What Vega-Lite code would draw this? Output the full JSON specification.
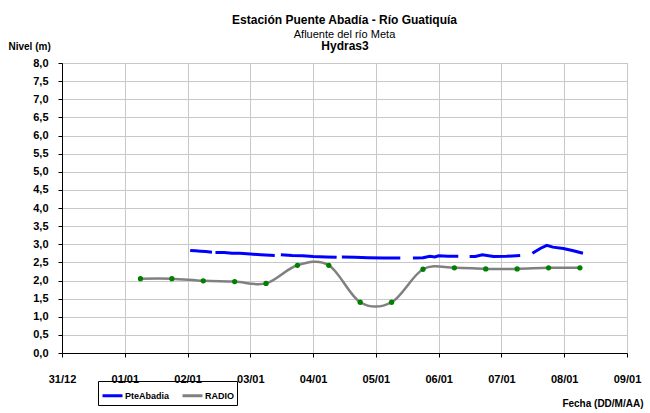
{
  "$schema": "https://vega.github.io/schema/vega-lite/v6.json",
  "width": 565,
  "height": 290,
  "autosize": "none",
  "padding": {"left": 62, "top": 63, "right": 23, "bottom": 60},
  "background": "white",
  "config": {
    "font": "Liberation Sans",
    "view": {"stroke": "#a0a0a0", "strokeWidth": 1},
    "title": {"color": "black", "subtitleColor": "black"}
  },
  "title": {
    "text": "Estación Puente Abadía  - Río Guatiquía",
    "subtitle": "Afluente del río Meta",
    "anchor": "middle",
    "font": "Liberation Sans",
    "fontSize": 12,
    "fontWeight": "bold",
    "subtitleFont": "Liberation Sans",
    "subtitleFontSize": 11,
    "subtitlePadding": 2,
    "offset": -2
  },
  "data": {
    "values": [
      {"t": "2014-01-01T06:00:00", "serie": "RADIO", "nivel": 2.05},
      {"t": "2014-01-01T18:00:00", "serie": "RADIO", "nivel": 2.05},
      {"t": "2014-01-02T06:00:00", "serie": "RADIO", "nivel": 1.99},
      {"t": "2014-01-02T18:00:00", "serie": "RADIO", "nivel": 1.97},
      {"t": "2014-01-03T06:00:00", "serie": "RADIO", "nivel": 1.92},
      {"t": "2014-01-03T18:00:00", "serie": "RADIO", "nivel": 2.42},
      {"t": "2014-01-04T06:00:00", "serie": "RADIO", "nivel": 2.42},
      {"t": "2014-01-04T18:00:00", "serie": "RADIO", "nivel": 1.40},
      {"t": "2014-01-05T06:00:00", "serie": "RADIO", "nivel": 1.40},
      {"t": "2014-01-05T18:00:00", "serie": "RADIO", "nivel": 2.31},
      {"t": "2014-01-06T06:00:00", "serie": "RADIO", "nivel": 2.35},
      {"t": "2014-01-06T18:00:00", "serie": "RADIO", "nivel": 2.32},
      {"t": "2014-01-07T06:00:00", "serie": "RADIO", "nivel": 2.32},
      {"t": "2014-01-07T18:00:00", "serie": "RADIO", "nivel": 2.35},
      {"t": "2014-01-08T06:00:00", "serie": "RADIO", "nivel": 2.35},

      {"t": "2014-01-02T01:00:00", "serie": "PteAbadia", "nivel": 2.83},
      {"t": "2014-01-02T03:00:00", "serie": "PteAbadia", "nivel": 2.82},
      {"t": "2014-01-02T05:00:00", "serie": "PteAbadia", "nivel": 2.81},
      {"t": "2014-01-02T07:00:00", "serie": "PteAbadia", "nivel": 2.80},
      {"t": "2014-01-02T09:20:00", "serie": "PteAbadia", "nivel": 2.78},
      {"t": "2014-01-02T10:00:00", "serie": "PteAbadia", "nivel": null},
      {"t": "2014-01-02T10:40:00", "serie": "PteAbadia", "nivel": 2.77},
      {"t": "2014-01-02T14:00:00", "serie": "PteAbadia", "nivel": 2.77},
      {"t": "2014-01-02T17:00:00", "serie": "PteAbadia", "nivel": 2.75},
      {"t": "2014-01-02T20:00:00", "serie": "PteAbadia", "nivel": 2.75},
      {"t": "2014-01-03T00:00:00", "serie": "PteAbadia", "nivel": 2.73},
      {"t": "2014-01-03T04:00:00", "serie": "PteAbadia", "nivel": 2.71},
      {"t": "2014-01-03T09:20:00", "serie": "PteAbadia", "nivel": 2.69},
      {"t": "2014-01-03T10:30:00", "serie": "PteAbadia", "nivel": null},
      {"t": "2014-01-03T11:40:00", "serie": "PteAbadia", "nivel": 2.71},
      {"t": "2014-01-03T16:00:00", "serie": "PteAbadia", "nivel": 2.69},
      {"t": "2014-01-03T20:00:00", "serie": "PteAbadia", "nivel": 2.68},
      {"t": "2014-01-04T00:00:00", "serie": "PteAbadia", "nivel": 2.66},
      {"t": "2014-01-04T05:00:00", "serie": "PteAbadia", "nivel": 2.65},
      {"t": "2014-01-04T09:00:00", "serie": "PteAbadia", "nivel": 2.64},
      {"t": "2014-01-04T10:00:00", "serie": "PteAbadia", "nivel": null},
      {"t": "2014-01-04T11:00:00", "serie": "PteAbadia", "nivel": 2.65},
      {"t": "2014-01-04T16:00:00", "serie": "PteAbadia", "nivel": 2.64},
      {"t": "2014-01-04T21:00:00", "serie": "PteAbadia", "nivel": 2.63},
      {"t": "2014-01-05T03:00:00", "serie": "PteAbadia", "nivel": 2.62},
      {"t": "2014-01-05T09:20:00", "serie": "PteAbadia", "nivel": 2.62},
      {"t": "2014-01-05T11:30:00", "serie": "PteAbadia", "nivel": null},
      {"t": "2014-01-05T14:10:00", "serie": "PteAbadia", "nivel": 2.62},
      {"t": "2014-01-05T18:00:00", "serie": "PteAbadia", "nivel": 2.63},
      {"t": "2014-01-05T20:40:00", "serie": "PteAbadia", "nivel": 2.67},
      {"t": "2014-01-05T22:30:00", "serie": "PteAbadia", "nivel": 2.65},
      {"t": "2014-01-06T00:00:00", "serie": "PteAbadia", "nivel": 2.68},
      {"t": "2014-01-06T03:30:00", "serie": "PteAbadia", "nivel": 2.67},
      {"t": "2014-01-06T07:30:00", "serie": "PteAbadia", "nivel": 2.67},
      {"t": "2014-01-06T09:30:00", "serie": "PteAbadia", "nivel": null},
      {"t": "2014-01-06T11:50:00", "serie": "PteAbadia", "nivel": 2.66},
      {"t": "2014-01-06T14:00:00", "serie": "PteAbadia", "nivel": 2.66},
      {"t": "2014-01-06T16:40:00", "serie": "PteAbadia", "nivel": 2.71},
      {"t": "2014-01-06T21:00:00", "serie": "PteAbadia", "nivel": 2.66},
      {"t": "2014-01-07T02:00:00", "serie": "PteAbadia", "nivel": 2.67},
      {"t": "2014-01-07T07:10:00", "serie": "PteAbadia", "nivel": 2.69},
      {"t": "2014-01-07T09:30:00", "serie": "PteAbadia", "nivel": null},
      {"t": "2014-01-07T11:50:00", "serie": "PteAbadia", "nivel": 2.75},
      {"t": "2014-01-07T15:00:00", "serie": "PteAbadia", "nivel": 2.89},
      {"t": "2014-01-07T17:20:00", "serie": "PteAbadia", "nivel": 2.97},
      {"t": "2014-01-07T19:40:00", "serie": "PteAbadia", "nivel": 2.92},
      {"t": "2014-01-07T23:40:00", "serie": "PteAbadia", "nivel": 2.88},
      {"t": "2014-01-08T03:30:00", "serie": "PteAbadia", "nivel": 2.82},
      {"t": "2014-01-08T07:10:00", "serie": "PteAbadia", "nivel": 2.75}
    ]
  },
  "encoding": {
    "y": {
      "field": "nivel", "type": "quantitative",
      "scale": {"domain": [0, 8], "nice": false, "zero": true},
      "axis": {
        "values": [0, 0.5, 1, 1.5, 2, 2.5, 3, 3.5, 4, 4.5, 5, 5.5, 6, 6.5, 7, 7.5, 8],
        "labelExpr": "replace(format(datum.value, '.1f'), '.', ',')",
        "labelFont": "Liberation Sans", "labelFontSize": 11, "labelFontWeight": "bold", "labelColor": "black",
        "labelOverlap": false,
        "labelPadding": 10, "tickSize": 4, "tickColor": "black", "domainColor": "black",
        "gridColor": "#c8c8c8", "gridWidth": 1,
        "title": "Nivel (m)", "titleFont": "Liberation Sans", "titleFontSize": 10, "titleFontWeight": "bold",
        "titleColor": "black", "titleAngle": 0, "titleAlign": "left", "titleBaseline": "middle",
        "titleX": -54, "titleY": -17
      }
    }
  },
  "resolve": {"axis": {"x": "independent"}},
  "layer": [
    {
      "transform": [{"filter": "datum.serie === 'PteAbadia'"}],
      "mark": {"type": "line", "color": "#0000FF", "strokeWidth": 3, "invalid": "break-paths-filter-domains"},
      "encoding": {
        "x": {
          "field": "t", "type": "temporal",
          "scale": {"domain": [{"year": 2013, "month": 12, "date": 31}, {"year": 2014, "month": 1, "date": 9}]},
          "axis": {
            "format": "%d/%m",
            "tickCount": {"interval": "day", "step": 1},
            "labelFont": "Liberation Sans", "labelFontSize": 11, "labelFontWeight": "bold", "labelColor": "black",
            "labelPadding": 16, "labelFlush": false, "labelOverlap": false,
            "tickSize": 4, "tickColor": "black", "domainColor": "black",
            "gridColor": "#c8c8c8", "gridWidth": 1,
            "title": "Fecha (DD/M/AA)", "titleFont": "Liberation Sans", "titleFontSize": 10, "titleFontWeight": "bold",
            "titleColor": "black", "titleAnchor": "end", "titleAlign": "right", "titleBaseline": "middle",
            "titleX": 581, "titleY": 50
          }
        },
        "color": {
          "field": "serie", "type": "nominal",
          "scale": {"domain": ["PteAbadia", "RADIO"], "range": ["#0000FF", "#808080"]},
          "legend": {
            "title": null, "orient": "none", "legendX": 36, "legendY": 318, "direction": "horizontal",
            "strokeColor": "black", "padding": 3, "symbolType": "stroke", "symbolStrokeWidth": 3, "symbolSize": 400,
            "labelFont": "Liberation Sans", "labelFontSize": 9, "labelFontWeight": "bold", "labelColor": "black",
            "columnPadding": 6, "labelOffset": 1
          }
        }
      }
    },
    {
      "transform": [{"filter": "datum.serie === 'RADIO'"}],
      "mark": {"type": "line", "color": "#808080", "strokeWidth": 2.5, "interpolate": "cardinal"},
      "encoding": {
        "x": {"field": "t", "type": "temporal", "axis": null},
        "color": {"field": "serie", "type": "nominal"}
      }
    },
    {
      "transform": [{"filter": "datum.serie === 'RADIO'"}],
      "mark": {"type": "point", "filled": true, "color": "#008000", "size": 28, "opacity": 1},
      "encoding": {
        "x": {
          "field": "t", "type": "temporal",
          "axis": {
            "orient": "top", "title": "Hydras3", "labels": false, "ticks": false, "domain": false, "grid": false,
            "titleFont": "Liberation Sans", "titleFontSize": 12, "titleFontWeight": "bold", "titleColor": "black",
            "titlePadding": 11
          }
        }
      }
    }
  ]
}
